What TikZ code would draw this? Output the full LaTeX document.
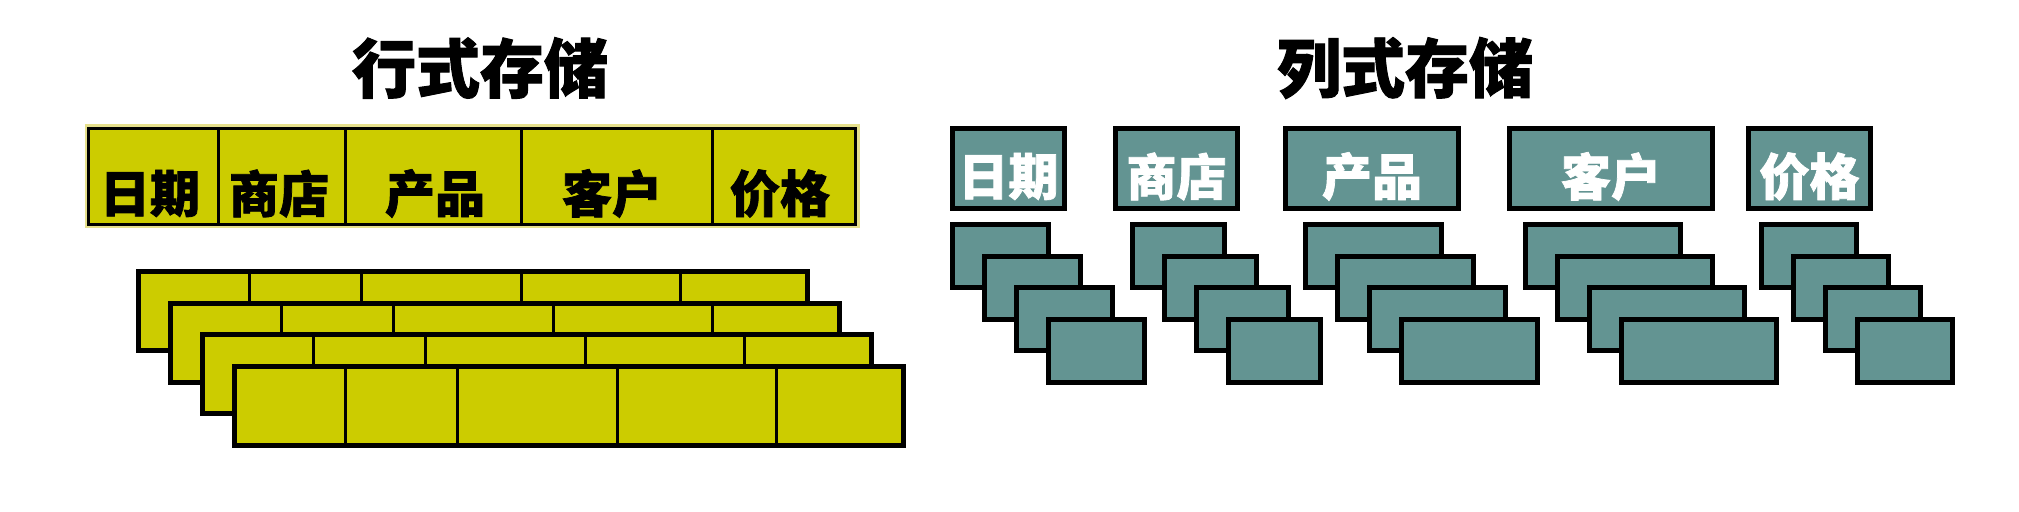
\documentclass[tikz,border=0pt]{standalone}
\usepackage{fontspec}
\newfontfamily\cjk{Noto Sans CJK SC}[BoldFeatures={FakeBold=1.5}]
\usetikzlibrary{calc}
\definecolor{rowyellow}{RGB}{204,204,0}
\definecolor{glowyellow}{RGB}{230,224,140}
\definecolor{colteal}{RGB}{99,148,146}
\tikzset{
  titletext/.style={font=\cjk\bfseries\fontsize{32pt}{32pt}\selectfont, inner sep=0pt},
  celltext/.style={font=\cjk\bfseries\fontsize{25pt}{25pt}\selectfont, inner sep=0pt},
  rowbox/.style={fill=rowyellow, draw=black, line width=2.5pt},
  rowdiv/.style={draw=black, line width=1.5pt},
  colbox/.style={fill=colteal, draw=black, line width=2.5pt},
}
\begin{document}
\begin{tikzpicture}[x=0.5pt,y=-0.5pt]
\useasboundingbox[fill=white] (0,0) rectangle (2019,512);

% titles
\node[titletext] (t1) at (480,68) {行式存储};
\node[titletext] (t2) at (1405,68) {列式存储};

% ---------- row store header ----------
\path[fill=rowyellow, draw=glowyellow, line width=1.5pt] (86,126) rectangle (858,227);
\draw[black, line width=1.5pt] (88.5,128.5) rectangle (855.5,224.5);
\foreach \dx in {218,345,521,712.5}{
  \draw[rowdiv] (\dx,128.5) -- (\dx,224.5);
}
\node[celltext] (h1) at (150,193.5) {日期};
\node[celltext] (h2) at (279,193.5) {商店};
\node[celltext] (h3) at (435,193.5) {产品};
\node[celltext] (h4) at (612,193.5) {客户};
\node[celltext] (h5) at (780,193.5) {价格};

% ---------- row store records ----------
\foreach \i in {0,1,2,3}{
  \pgfmathsetmacro{\ox}{136+32*\i}
  \pgfmathsetmacro{\oy}{269+31.67*\i}
  \coordinate (r\i) at (\ox,\oy);
  \path[rowbox] ($(r\i)+(2.5,2.5)$) rectangle ($(r\i)+(671.5,81.5)$);
  \foreach \dx in {113.5,225,385,544}{
    \draw[rowdiv] ($(r\i)+(\dx,2.5)$) -- ($(r\i)+(\dx,81.5)$);
  }
}

% ---------- column store headers ----------
\foreach \xa/\xb/\lab [count=\k] in {950/1067/日期,1113/1240/商店,1283/1461/产品,1507/1715/客户,1746/1873/价格}{
  \path[colbox] (\xa+2.5,128.5) rectangle (\xb-2.5,208.5);
  \node[celltext, text=white] (c\k) at ({(\xa+\xb)/2},176.5) {\lab};
}

% ---------- column store values ----------
\foreach \xa/\w [count=\k] in {950/101,1130/97,1303/141,1523/160,1759/100}{
  \foreach \j in {0,1,2,3}{
    \pgfmathsetmacro{\bx}{\xa+32*\j}
    \pgfmathsetmacro{\by}{222+31.67*\j}
    \coordinate (v\k\j) at (\bx,\by);
    \path[colbox] ($(v\k\j)+(2.5,2.5)$) rectangle ($(v\k\j)+(\w-2.5,65.5)$);
  }
}
\end{tikzpicture}
\end{document}
